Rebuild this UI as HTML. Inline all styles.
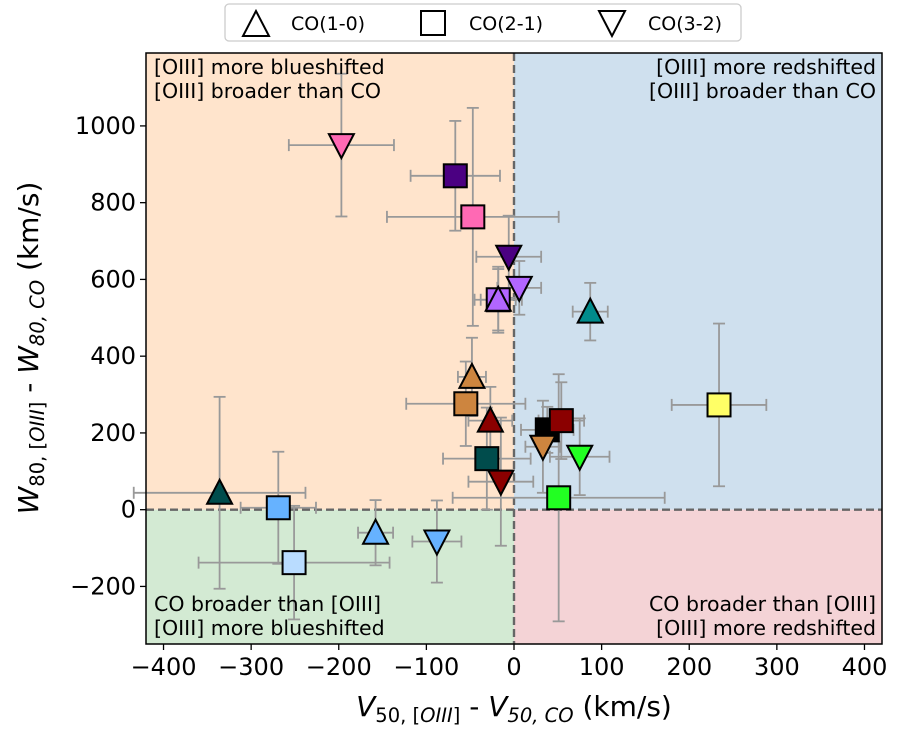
<!DOCTYPE html>
<html><head><meta charset="utf-8"><style>
body{margin:0;background:#fff;}
svg text{font-family:"DejaVu Sans","Liberation Sans",sans-serif;}
</style></head><body>
<svg id="chart" width="900" height="742" xmlns="http://www.w3.org/2000/svg">
<g id="bg"></g><g id="grid"></g><g id="err"></g><g id="marks"></g><g id="axes"></g>
</svg>
<script>
const xs=[-197,-67,-47,-6,6,-18,-18,87,-48,-55,-27,-31,-15,38,54,33,75,51,234,-336,-269,-251,-158,-88];
const ys=[950,870,763,659,578,547,547,516,346,276,232,133,73,208,232,164,138,31,273,44,5,-138,-60,-83];
const xerrs=[60,51,98,37,25,27,20,20,16,68,25,50,37,30,26,20,34,121,54,98,43,109,20,28];
const yerrs=[186,143,284,107,70,86,80,75,102,110,88,133,167,60,100,120,100,322,212,250,146,148,85,107];
const kinds=['v','s','s','v','v','s','t','t','t','s','t','s','v','s','s','v','v','s','s','t','s','s','t','v'];
const colors=['#ff69b4','#4b0082','#ff69b4','#4b0082','#b266ff','#b266ff','#b266ff','#008b8b','#cd853f','#cd853f','#8b0000','#004c4c','#8b0000','#000000','#8b0000','#cd853f','#22ff22','#22ff22','#ffff66','#004c4c','#66b2ff','#b9dcff','#66b2ff','#66b2ff'];
const xTicks=[-400,-300,-200,-100,0,100,200,300,400];
const yTicks=[-200,0,200,400,600,800,1000];
const L=146,R=882,T=53,B=644,X0=-420,X1=420,Y0=-350,Y1=1190;
const sx=v=>L+(v-X0)/(X1-X0)*(R-L);
const sy=v=>B-(v-Y0)/(Y1-Y0)*(B-T);
const NS='http://www.w3.org/2000/svg';
function mk(p,tag,a){const e=document.createElementNS(NS,tag);for(const k in a)e.setAttribute(k,a[k]);document.getElementById(p).appendChild(e);return e;}
let r;
r=mk('bg','rect',{x:L,y:T,width:sx(0)-L,height:sy(0)-T,fill:'#ffe4cc'});


r=mk('bg','rect',{x:sx(0),y:T,width:R-sx(0),height:sy(0)-T,fill:'#cfe0ee'});


r=mk('bg','rect',{x:L,y:sy(0),width:sx(0)-L,height:B-sy(0),fill:'#d3ead3'});


r=mk('bg','rect',{x:sx(0),y:sy(0),width:R-sx(0),height:B-sy(0),fill:'#f4d3d6'});


r=mk('grid','line',{x1:sx(0),x2:sx(0),y1:T,y2:B,stroke:'#666',"stroke-width":2.4,"stroke-dasharray":"8,4"});


r=mk('grid','line',{x1:L,x2:R,y1:sy(0),y2:sy(0),stroke:'#666',"stroke-width":2.4,"stroke-dasharray":"8,4"});


for(let i=0;i<xs.length;i++){
  const cx=sx(xs[i]),cy=sy(ys[i]);
  const g=mk('err','g',{stroke:'#999',"stroke-width":1.8,fill:'none'});
  
  
  const xa=sx(xs[i]-xerrs[i]),xb=sx(xs[i]+xerrs[i]),ya=sy(ys[i]+yerrs[i]),yb=sy(ys[i]-yerrs[i]);
  g.innerHTML=`<line x1="${xa}" x2="${xb}" y1="${cy}" y2="${cy}"/><line x1="${cx}" x2="${cx}" y1="${ya}" y2="${yb}"/>
  <line x1="${xa}" x2="${xa}" y1="${cy-6}" y2="${cy+6}"/><line x1="${xb}" x2="${xb}" y1="${cy-6}" y2="${cy+6}"/>
  <line x1="${cx-6}" x2="${cx+6}" y1="${ya}" y2="${ya}"/><line x1="${cx-6}" x2="${cx+6}" y1="${yb}" y2="${yb}"/>`;
  let m;
  const st={fill:colors[i],stroke:'#000',"stroke-width":2};
  if(kinds[i]==='s'){m=mk('marks','rect',Object.assign({x:cx-11.5,y:cy-11.5,width:23,height:23},st));}
  else if(kinds[i]==='t'){m=mk('marks','polygon',Object.assign({points:`${cx},${cy-13} ${cx-12.5},${cy+11} ${cx+12.5},${cy+11}`},st));}
  else {m=mk('marks','polygon',Object.assign({points:`${cx},${cy+13} ${cx-12.5},${cy-11} ${cx+12.5},${cy-11}`},st));}
  
  
}
const ax=document.getElementById('axes');
let h=`<rect x="${L}" y="${T}" width="${R-L}" height="${B-T}" fill="none" stroke="#000" stroke-width="1.5"/>`;
xTicks.forEach(t=>{h+=`<line x1="${sx(t)}" x2="${sx(t)}" y1="${B}" y2="${B+6}" stroke="#000" stroke-width="1.3"/><text x="${sx(t)}" y="${B+31}" font-size="24" text-anchor="middle">${t<0?'\u2212'+(-t):t}</text>`;});
yTicks.forEach(t=>{h+=`<line x1="${L-6}" x2="${L}" y1="${sy(t)}" y2="${sy(t)}" stroke="#000" stroke-width="1.3"/><text x="${L-10}" y="${sy(t)+8}" font-size="24" text-anchor="end">${t<0?'\u2212'+(-t):t}</text>`;});
ax.innerHTML=h;
</script>
<svg width="900" height="742" style="position:absolute;left:0;top:0" xmlns="http://www.w3.org/2000/svg">
<g font-size="20.5" fill="#000">
<text x="154" y="74"><tspan x="154">[OIII] more blueshifted</tspan><tspan x="154" dy="24">[OIII] broader than CO</tspan></text>
<text x="876" y="74" text-anchor="end"><tspan x="876">[OIII] more redshifted</tspan><tspan x="876" dy="24">[OIII] broader than CO</tspan></text>
<text x="154" y="611"><tspan x="154">CO broader than [OIII]</tspan><tspan x="154" dy="24">[OIII] more blueshifted</tspan></text>
<text x="876" y="611" text-anchor="end"><tspan x="876">CO broader than [OIII]</tspan><tspan x="876" dy="24">[OIII] more redshifted</tspan></text>
</g>
<text x="514" y="716" font-size="28" text-anchor="middle"><tspan font-style="italic">V</tspan><tspan font-size="19.5" dy="6">50, [<tspan font-style="italic">OIII</tspan>]</tspan><tspan dy="-6"> - </tspan><tspan font-style="italic">V</tspan><tspan font-size="19.5" dy="6" font-style="italic">50, CO</tspan><tspan dy="-6"> (km/s)</tspan></text>
<text transform="translate(38,348) rotate(-90)" font-size="28" text-anchor="middle"><tspan font-style="italic">W</tspan><tspan font-size="19.5" dy="6">80, [<tspan font-style="italic">OIII</tspan>]</tspan><tspan dy="-6"> - </tspan><tspan font-style="italic">W</tspan><tspan font-size="19.5" dy="6" font-style="italic">80, CO</tspan><tspan dy="-6"> (km/s)</tspan></text>
<g>
<rect x="225" y="4" width="516" height="37" rx="4" fill="#fff" stroke="#ccc" stroke-width="1.3"/>
<polygon points="256,11 243,36 269,36" fill="none" stroke="#000" stroke-width="2"/>
<text x="291" y="30" font-size="19">CO(1-0)</text>
<rect x="421" y="11" width="24" height="24" fill="none" stroke="#000" stroke-width="2"/>
<text x="469" y="30" font-size="19">CO(2-1)</text>
<polygon points="612,36 599,11 625,11" fill="none" stroke="#000" stroke-width="2"/>
<text x="648" y="30" font-size="19">CO(3-2)</text>
</g>
</svg>
</body></html>
